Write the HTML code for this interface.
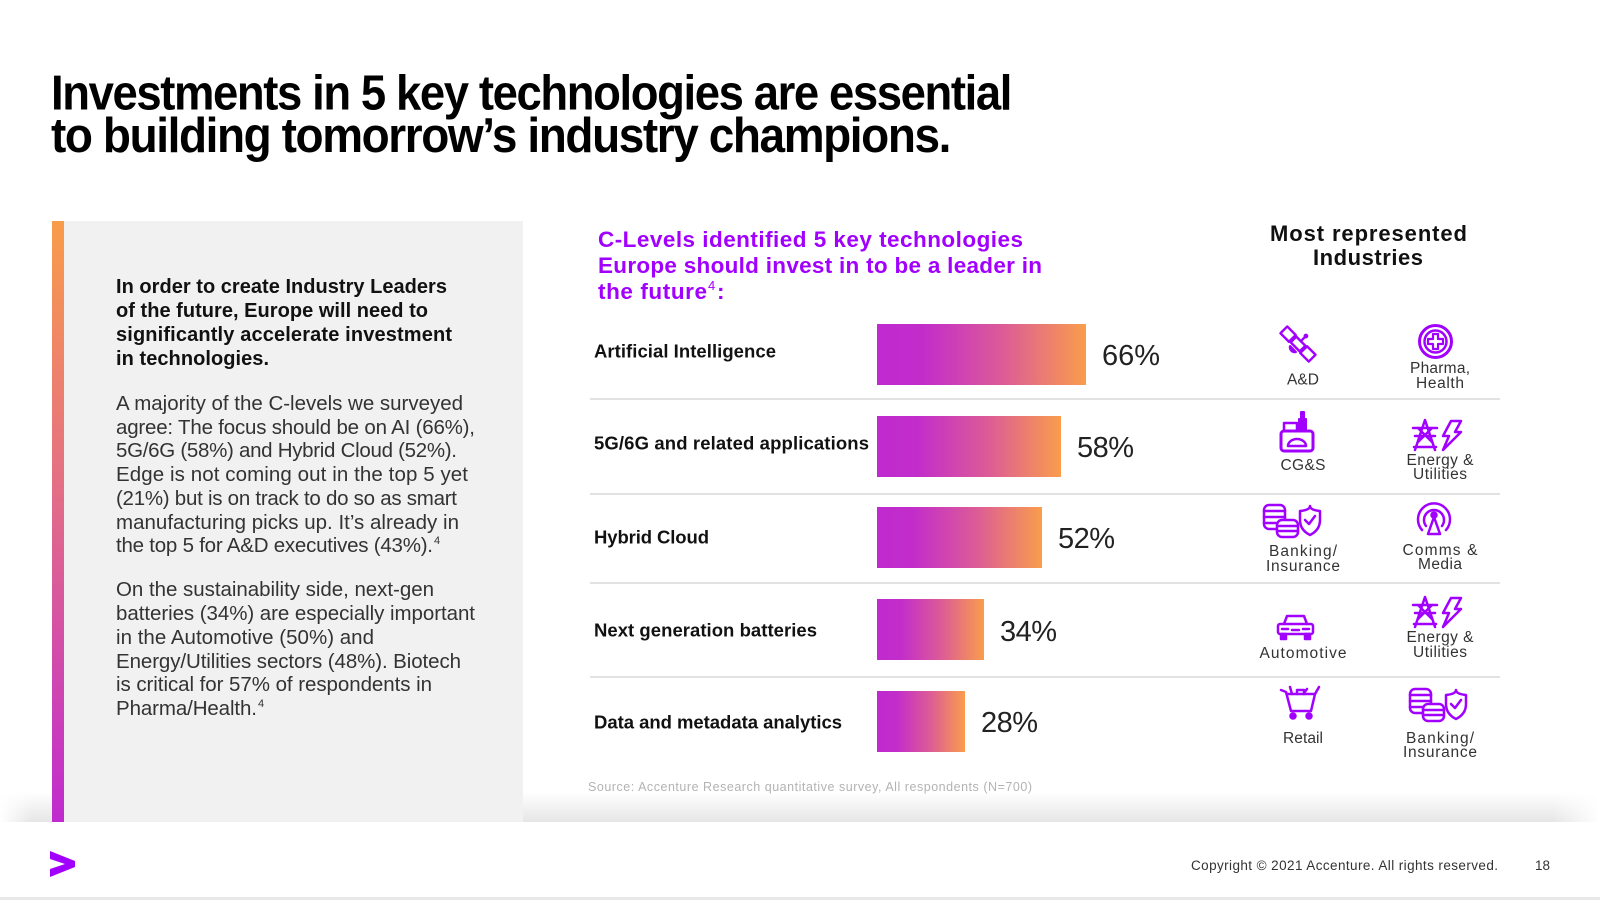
<!DOCTYPE html>
<html><head><meta charset="utf-8"><style>
html,body{margin:0;padding:0;background:#fff;}
svg{display:block;}
text{font-family:"Liberation Sans",Arial,sans-serif;}
</style></head><body>
<svg width="1600" height="900" viewBox="0 0 1600 900" xmlns="http://www.w3.org/2000/svg">
<defs>
<linearGradient id="bar" x1="0" y1="0" x2="1" y2="0">
<stop offset="0" stop-color="#c02ad0"/><stop offset="0.22" stop-color="#c22dca"/><stop offset="0.6" stop-color="#dc5b97"/><stop offset="1" stop-color="#f99d4c"/>
</linearGradient>
<linearGradient id="vbar" x1="0" y1="0" x2="0" y2="1">
<stop offset="0" stop-color="#f99c4a"/><stop offset="0.45" stop-color="#e36e86"/><stop offset="1" stop-color="#c02acf"/>
</linearGradient>
<linearGradient id="shd" x1="0" y1="0" x2="0" y2="1">
<stop offset="0" stop-color="#000" stop-opacity="0"/><stop offset="1" stop-color="#000" stop-opacity="0.10"/>
</linearGradient>
<linearGradient id="shdh" x1="0" y1="0" x2="1" y2="0">
<stop offset="0" stop-color="#fff" stop-opacity="1"/><stop offset="0.02" stop-color="#fff" stop-opacity="0"/><stop offset="0.97" stop-color="#fff" stop-opacity="0"/><stop offset="1" stop-color="#fff" stop-opacity="1"/>
</linearGradient>
</defs>
<rect width="1600" height="900" fill="#fff"/>

<!-- Title -->
<text x="51" y="109.5" font-size="49" font-weight="bold" fill="#000" style="letter-spacing:-1.5px" textLength="960" lengthAdjust="spacingAndGlyphs">Investments in 5 key technologies are essential</text>
<text x="51" y="152" font-size="49" font-weight="bold" fill="#000" style="letter-spacing:-1.5px" textLength="899" lengthAdjust="spacingAndGlyphs">to building tomorrow’s industry champions.</text>

<!-- shadow above footer -->
<rect x="0" y="792" width="1600" height="30" fill="url(#shd)"/>
<rect x="0" y="792" width="1600" height="30" fill="url(#shdh)"/>

<!-- Left panel -->
<rect x="52" y="221" width="471" height="601" fill="#f1f1f1"/>
<rect x="52" y="221" width="12" height="601" fill="url(#vbar)"/>

<g font-size="20" font-weight="bold" fill="#111">
<text x="116" y="293" textLength="331">In order to create Industry Leaders</text>
<text x="116" y="317" textLength="312">of the future, Europe will need to</text>
<text x="116" y="341" textLength="336">significantly accelerate investment</text>
<text x="116" y="365" textLength="153">in technologies.</text>
</g>
<g font-size="20.5" fill="#333">
<text x="116" y="410" textLength="347">A majority of the C-levels we surveyed</text>
<text x="116" y="434" textLength="359">agree: The focus should be on AI (66%),</text>
<text x="116" y="457" textLength="341">5G/6G (58%) and Hybrid Cloud (52%).</text>
<text x="116" y="481" textLength="352">Edge is not coming out in the top 5 yet</text>
<text x="116" y="505" textLength="341">(21%) but is on track to do so as smart</text>
<text x="116" y="529" textLength="343">manufacturing picks up. It’s already in</text>
<text x="116" y="552" textLength="317">the top 5 for A&amp;D executives (43%).</text>
<text x="434" y="544" font-size="11">4</text>
<text x="116" y="596" textLength="318">On the sustainability side, next-gen</text>
<text x="116" y="620" textLength="359">batteries (34%) are especially important</text>
<text x="116" y="644" textLength="258">in the Automotive (50%) and</text>
<text x="116" y="668" textLength="345">Energy/Utilities sectors (48%). Biotech</text>
<text x="116" y="691" textLength="316">is critical for 57% of respondents in</text>
<text x="116" y="715" textLength="141">Pharma/Health.</text>
<text x="258" y="707" font-size="11">4</text>
</g>

<!-- Chart title -->
<g font-size="22.5" font-weight="bold" fill="#a100ff">
<text x="598" y="247" textLength="425">C-Levels identified 5 key technologies</text>
<text x="598" y="273" textLength="444">Europe should invest in to be a leader in</text>
<text x="598" y="299" textLength="109">the future</text>
<text x="708" y="290" font-size="13" font-weight="normal">4</text>
<text x="717" y="299">:</text>
</g>

<!-- separators -->
<g stroke="#d9d9d9" stroke-width="1.5">
<line x1="590" y1="399" x2="1500" y2="399"/>
<line x1="590" y1="494" x2="1500" y2="494"/>
<line x1="590" y1="583" x2="1500" y2="583"/>
<line x1="590" y1="677" x2="1500" y2="677"/>
</g>

<!-- Row labels -->
<g font-size="18.5" font-weight="bold" fill="#111">
<text x="594" y="357.5" textLength="182">Artificial Intelligence</text>
<text x="594" y="449.5" textLength="275">5G/6G and related applications</text>
<text x="594" y="543.5" textLength="115">Hybrid Cloud</text>
<text x="594" y="636.5" textLength="223">Next generation batteries</text>
<text x="594" y="728.5" textLength="248">Data and metadata analytics</text>
</g>

<!-- Bars -->
<rect x="877" y="324" width="209" height="61" fill="url(#bar)"/>
<rect x="877" y="416" width="184" height="61" fill="url(#bar)"/>
<rect x="877" y="507" width="165" height="61" fill="url(#bar)"/>
<rect x="877" y="599" width="107" height="61" fill="url(#bar)"/>
<rect x="877" y="691" width="88" height="61" fill="url(#bar)"/>

<g font-size="29" fill="#222">
<text x="1102" y="365" textLength="58">66%</text>
<text x="1077" y="457" textLength="57">58%</text>
<text x="1058" y="548" textLength="57">52%</text>
<text x="1000" y="641" textLength="57">34%</text>
<text x="981" y="732" textLength="57">28%</text>
</g>

<!-- Industries header -->
<g font-size="22" font-weight="bold" fill="#111">
<text x="1270" y="241" textLength="197">Most represented</text>
<text x="1313" y="265" textLength="110">Industries</text>
</g>

<!-- Industry labels -->
<g font-size="15.5" fill="#333">
<text x="1287" y="384.5" textLength="32">A&amp;D</text>
<text x="1410" y="373" textLength="60">Pharma,</text>
<text x="1416" y="388" textLength="48">Health</text>
<text x="1280.5" y="470" textLength="45">CG&amp;S</text>
<text x="1406.5" y="465" textLength="67">Energy &amp;</text>
<text x="1413" y="479" textLength="54">Utilities</text>
<text x="1269" y="556" textLength="68">Banking/</text>
<text x="1266" y="571" textLength="74">Insurance</text>
<text x="1402.5" y="555" textLength="75">Comms &amp;</text>
<text x="1418" y="569" textLength="44">Media</text>
<text x="1259.5" y="658" textLength="87">Automotive</text>
<text x="1406.5" y="642" textLength="67">Energy &amp;</text>
<text x="1413" y="657" textLength="54">Utilities</text>
<text x="1283" y="743" textLength="40">Retail</text>
<text x="1406" y="743" textLength="68">Banking/</text>
<text x="1403" y="757" textLength="74">Insurance</text>
</g>

<!-- Icons -->
<g stroke="#a100ff" fill="none" stroke-width="3" stroke-linejoin="round" stroke-linecap="round">
<!-- satellite -->
<g transform="translate(1298,344) rotate(-45) scale(0.8)">
<rect x="-6" y="-25" width="12" height="15"/>
<rect x="-5" y="-8" width="10" height="16"/>
<rect x="-6" y="10" width="12" height="15"/>
<line x1="5" y1="0" x2="13" y2="0"/>
<circle cx="14" cy="0" r="1.5" fill="#a100ff"/>
<path d="M-9,-5 A6,6 0 0 0 -9,5 Z"/>
</g>
<!-- pharma -->
<circle cx="1435.5" cy="341.5" r="16"/>
<circle cx="1435.5" cy="341.5" r="11" stroke-width="2.5"/>
<path d="M1433,334 h5 v5 h5 v5 h-5 v5 h-5 v-5 h-5 v-5 h5 z" stroke-width="2.2"/>
<!-- CG&S -->
<rect x="1281" y="431" width="32" height="20" rx="3"/>
<path d="M1288,446 a9,7 0 0 1 18,0 z" stroke-width="2.5"/>
<rect x="1299" y="419" width="7" height="12" fill="#a100ff" stroke-width="2"/>
<rect x="1301" y="412" width="3" height="7" fill="#a100ff" stroke-width="2"/>
<rect x="1284" y="423" width="13" height="8" stroke-width="2.5"/>
<!-- energy 1 -->
<g stroke-width="2.5">
<path d="M1425,420 L1415,450 M1425,420 L1435,450 M1413,428 H1437 M1415,436 H1435 M1418,428 L1432,442 M1432,428 L1418,442 M1414,447 H1436"/>
<path d="M1451,421 H1461 L1455,432 H1461 L1443,450 L1449,436 H1443 Z"/>
</g>
<!-- banking 1 -->
<g stroke-width="2.5">
<rect x="1264" y="505" width="21" height="24" rx="5"/>
<path d="M1264,511 H1285 M1264,517 H1285 M1264,523 H1285"/>
<rect x="1277" y="520" width="21" height="17" rx="5" fill="#fff"/>
<path d="M1277,526 H1298 M1277,531 H1298"/>
<path d="M1300,511 Q1310,510 1310,506 Q1310,510 1320,511 V520 Q1320,530 1310,535 Q1300,530 1300,520 Z"/>
<path d="M1305,520 L1309,524 L1315,516"/>
</g>
<!-- comms -->
<g stroke-width="2.5">
<path d="M1422,530 A16,16 0 1 1 1446,530"/>
<path d="M1426,526 A10,10 0 1 1 1442,526"/>
<circle cx="1434" cy="515" r="2.5" fill="#a100ff"/>
<path d="M1434,517 L1428,534 H1440 Z"/>
</g>
<!-- automotive -->
<g stroke-width="2.5">
<path d="M1284,624 L1287,616 H1304 L1307,624"/>
<rect x="1278" y="624" width="35" height="10" rx="2"/>
<path d="M1282,629 H1288 M1303,629 H1309 M1292,630 H1299"/>
<rect x="1281" y="634" width="5" height="5" fill="#a100ff"/>
<rect x="1305" y="634" width="5" height="5" fill="#a100ff"/>
</g>
<!-- energy 2 -->
<g stroke-width="2.5" transform="translate(0,177)">
<path d="M1425,420 L1415,450 M1425,420 L1435,450 M1413,428 H1437 M1415,436 H1435 M1418,428 L1432,442 M1432,428 L1418,442 M1414,447 H1436"/>
<path d="M1451,421 H1461 L1455,432 H1461 L1443,450 L1449,436 H1443 Z"/>
</g>
<!-- retail -->
<g stroke-width="2.5">
<path d="M1281,690 L1286,692 L1291,711 H1311 L1315,694 H1287"/>
<path d="M1315,694 L1319,687"/>
<circle cx="1293" cy="716" r="2.5" fill="#a100ff"/>
<circle cx="1309" cy="716" r="2.5" fill="#a100ff"/>
<path d="M1292,694 L1290,687 M1297,694 V690 H1304 V694 M1304,693 L1307,689"/>
</g>
<!-- banking 2 -->
<g stroke-width="2.5" transform="translate(146,184)">
<rect x="1264" y="505" width="21" height="24" rx="5"/>
<path d="M1264,511 H1285 M1264,517 H1285 M1264,523 H1285"/>
<rect x="1277" y="520" width="21" height="17" rx="5" fill="#fff"/>
<path d="M1277,526 H1298 M1277,531 H1298"/>
<path d="M1300,511 Q1310,510 1310,506 Q1310,510 1320,511 V520 Q1320,530 1310,535 Q1300,530 1300,520 Z"/>
<path d="M1305,520 L1309,524 L1315,516"/>
</g>
</g>

<!-- Source -->
<text x="588" y="791" font-size="12.5" fill="#b3b3b3" textLength="444">Source: Accenture Research quantitative survey, All respondents (N=700)</text>

<!-- Footer -->
<rect x="0" y="822" width="1600" height="76" fill="#fff"/>
<rect x="0" y="897" width="1600" height="3" fill="#e8e8e8"/>
<polygon points="50,851 75,861 75,867 50,877 50,869 65,864 50,859" fill="#a100ff"/>
<text x="1191" y="870" font-size="13.5" fill="#333" textLength="307">Copyright © 2021 Accenture. All rights reserved.</text>
<text x="1535" y="870" font-size="13.5" fill="#333">18</text>
</svg>
</body></html>
